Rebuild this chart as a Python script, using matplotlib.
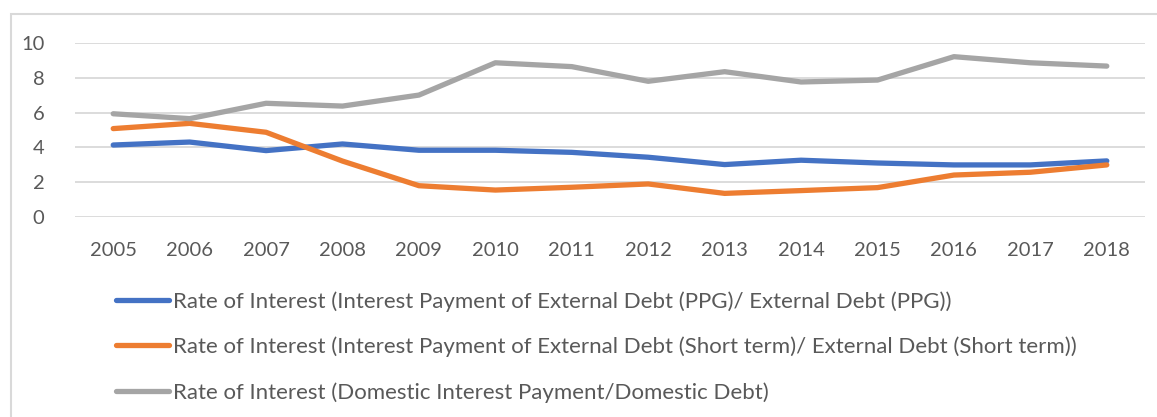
import numpy as np
import matplotlib.pyplot as plt
from matplotlib.patches import Rectangle

# DATA
years = ['2005', '2006', '2007', '2008', '2009', '2010', '2011',
         '2012', '2013', '2014', '2015', '2016', '2017', '2018']
ppg_rate = [4.14, 4.31, 3.82, 4.20, 3.84, 3.84, 3.72,
            3.44, 3.02, 3.27, 3.11, 3.00, 3.00, 3.23]
short_term_rate = [5.08, 5.38, 4.87, 3.22, 1.81, 1.56, 1.72,
                   1.91, 1.37, 1.53, 1.70, 2.42, 2.58, 3.00]
domestic_rate = [5.93, 5.65, 6.53, 6.37, 7.00, 8.85, 8.63,
                 7.79, 8.34, 7.75, 7.86, 9.20, 8.85, 8.66]
labels = [
    'Rate of Interest (Interest Payment of External Debt (PPG)/ External Debt (PPG))',
    'Rate of Interest (Interest Payment of External Debt (Short term)/ External Debt (Short term))',
    'Rate of Interest (Domestic Interest Payment/Domestic Debt)',
]
colors = ['#4472C4', '#ED7D31', '#A5A5A5']

plt.rcParams['font.family'] = ['Lato', 'DejaVu Sans']
TXT = '#595959'


def draw_rates(series):
    '''
    :param series: list of value lists, one per rate
    :return: figure with the three rate lines and a legend below
    '''
    fig = plt.figure(figsize=(11.57, 4.17), dpi=100)
    ax = fig.add_axes([75 / 1157, 1 - 217.3 / 417, 1070 / 1157, 174.6 / 417])
    x = np.arange(len(years))
    lines = []
    for vals, lab, col in zip(series, labels, colors):
        ln, = ax.plot(x, vals, color=col, lw=3.8, label=lab,
                      solid_capstyle='round', solid_joinstyle='round')
        lines.append(ln)

    ax.set_xlim(-0.5, len(years) - 0.5)
    ax.set_ylim(0, 10)
    ax.set_yticks(np.arange(0, 11, 2))
    ax.set_xticks(x)
    ax.set_xticklabels(years)
    ax.grid(axis='y', color='#D9D9D9', lw=1.3)
    ax.set_axisbelow(True)
    for s in ax.spines.values():
        s.set_visible(False)
    ax.tick_params(length=0, labelsize=14.5, colors=TXT)
    ax.tick_params(axis='y', pad=22)
    ax.tick_params(axis='x', pad=18)

    # legend under the chart, one entry per row
    fig.legend(handles=lines, loc='upper left',
               bbox_to_anchor=(116 / 1157, 1 - 291 / 417),
               frameon=False, fontsize=16, labelcolor=TXT,
               borderpad=0, borderaxespad=0,
               handlelength=2.4, handletextpad=0.15, labelspacing=1.12)

    # chart frame
    fig.patches.append(Rectangle((11 / 1157, -0.05), 1.1, 1.05 - 14 / 417,
                                 transform=fig.transFigure, fill=False,
                                 edgecolor='#D9D9D9', lw=1.5))
    fig.savefig('out.png', dpi=100)


if __name__ == "__main__":
    draw_rates([ppg_rate, short_term_rate, domestic_rate])
